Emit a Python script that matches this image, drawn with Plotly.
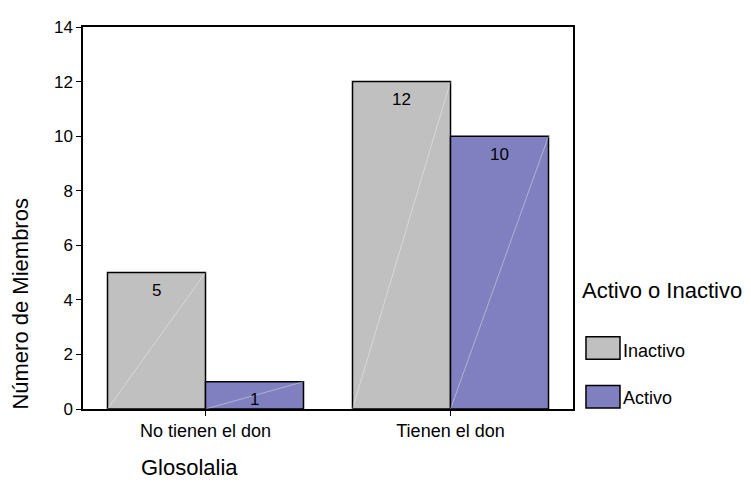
import plotly.graph_objects as go

categories = ["No tienen el don", "Tienen el don"]
series_names = ["Inactivo", "Activo"]
inactivo = [5, 12]
activo = [1, 10]
y_ticks = [0, 2, 4, 6, 8, 10, 12, 14]

colors = {"Inactivo": "#C0C0C0", "Activo": "#8080C0"}
FONT = "Liberation Sans, Arial, sans-serif"

fig = go.Figure()
for name, vals in zip(series_names, [inactivo, activo]):
    fig.add_trace(go.Bar(
        x=categories, y=vals, name=name,
        marker=dict(color=colors[name], line=dict(color="black", width=1.5)),
        showlegend=False,
    ))

# value labels inside bars near top, and faint diagonal lines
bar_w = 0.4
for i, (name, vals) in enumerate(zip(series_names, [inactivo, activo])):
    for c, v in enumerate(vals):
        x0 = c - bar_w + i * bar_w
        x1 = x0 + bar_w
        fig.add_annotation(x=x0 + bar_w / 2, y=v, text=str(v), showarrow=False,
                           yshift=-18, font=dict(size=17, color="black", family=FONT))
        fig.add_shape(type="line", xref="x", yref="y", x0=x0, y0=0, x1=x1, y1=v,
                      line=dict(color="rgba(255,255,255,0.55)", width=0.7))

# custom legend
fig.add_annotation(xref="paper", yref="paper", x=1.0143, y=0.309, xanchor="left",
                   yanchor="middle", text="Activo o Inactivo", showarrow=False,
                   font=dict(size=22, color="black", family=FONT))
leg_y = [(0.1304, 0.1893, 0.151), (0.0026, 0.0614, 0.028)]
for name, (y0, y1, yt) in zip(series_names, leg_y):
    fig.add_shape(type="rect", xref="paper", yref="paper",
                  x0=1.0265, x1=1.0959, y0=y0, y1=y1,
                  fillcolor=colors[name], line=dict(color="black", width=1.5))
    fig.add_annotation(xref="paper", yref="paper", x=1.097, y=yt, xanchor="left",
                       yanchor="middle", text=name, showarrow=False,
                       font=dict(size=18, color="black", family=FONT))

fig.add_annotation(xref="paper", yref="paper", x=-0.1265, y=0.276, textangle=-90,
                   xanchor="center", yanchor="middle", text="Número de Miembros",
                   showarrow=False, font=dict(size=22, color="black", family=FONT))
fig.add_annotation(xref="paper", yref="paper", x=0.218, y=-0.152, xanchor="center",
                   yanchor="middle", text="Glosolalia", showarrow=False,
                   font=dict(size=22, color="black", family=FONT))

fig.update_layout(
    width=743, height=484,
    margin=dict(l=75, r=178, t=10, b=83),
    paper_bgcolor="white", plot_bgcolor="white",
    barmode="group", bargap=0.2, bargroupgap=0,
    font=dict(family=FONT, size=17, color="black"),
)
fig.update_xaxes(showline=True, linecolor="black", linewidth=1.5, mirror=True,
                 ticks="outside", ticklen=5, tickcolor="black", showgrid=False,
                 range=[-0.5, 1.5], tickfont=dict(size=18))
fig.update_yaxes(showline=True, linecolor="black", linewidth=1.5, mirror=True,
                 ticks="outside", ticklen=5, tickcolor="black", showgrid=False,
                 range=[0, 14], tickvals=y_ticks, zeroline=False, tickfont=dict(size=17))

fig.write_html("out.html")
